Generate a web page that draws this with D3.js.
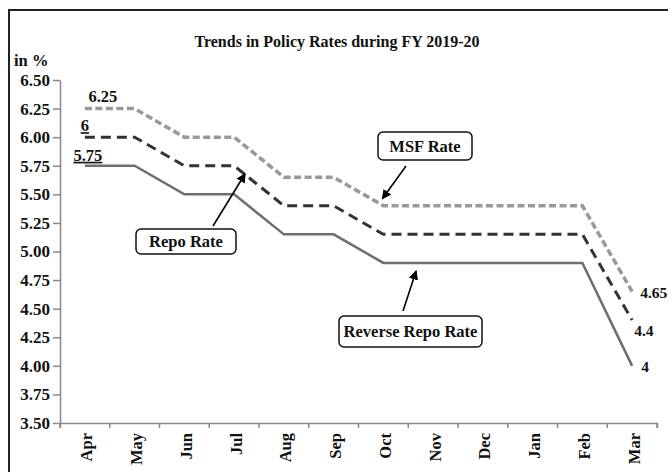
<!DOCTYPE html>
<html><head><meta charset="utf-8">
<script src="https://cdn.jsdelivr.net/npm/d3@7"></script>
<style>
body{margin:0;background:#fff;}
text{font-family:"Liberation Serif","Times New Roman",serif;font-weight:bold;fill:#111;}
</style></head>
<body><svg id="c" width="668" height="472"></svg>
<script>
const months = ["Apr","May","Jun","Jul","Aug","Sep","Oct","Nov","Dec","Jan","Feb","Mar"];
const msfRate = [6.25,6.25,6.00,6.00,5.65,5.65,5.40,5.40,5.40,5.40,5.40,4.65];
const repoRate = [6.00,6.00,5.75,5.75,5.40,5.40,5.15,5.15,5.15,5.15,5.15,4.40];
const reverseRepoRate = [5.75,5.75,5.50,5.50,5.15,5.15,4.90,4.90,4.90,4.90,4.90,4.00];
const yTicks = [3.50,3.75,4.00,4.25,4.50,4.75,5.00,5.25,5.50,5.75,6.00,6.25,6.50];
const startLabels = ["6.25","6","5.75"];
const endLabels = ["4.65","4.4","4"];

const svg = d3.select("#c");
const x = d3.scaleBand().domain(months).range([60,657]);
const y = d3.scaleLinear().domain([3.5,6.5]).range([423,80]);
const cx = m => x(m) + x.bandwidth()/2;

// outer frame
svg.append("rect").attr("x",9).attr("y",10).attr("width",700).attr("height",500)
  .attr("fill","none").attr("stroke","#222").attr("stroke-width",2);

// title
svg.append("text").attr("x",337).attr("y",47).attr("text-anchor","middle")
  .style("font-size","16px").text("Trends in Policy Rates during FY 2019-20");
svg.append("text").attr("x",14).attr("y",66).style("font-size","16.5px").text("in %");

// axes
const yAxis = svg.append("g").attr("transform","translate(60,0)")
  .call(d3.axisLeft(y).tickValues(yTicks).tickFormat(d3.format(".2f")).tickSize(7).tickSizeOuter(0));
const xAxis = svg.append("g").attr("transform","translate(0,423)")
  .call(d3.axisBottom(x).tickSize(5).tickSizeOuter(5));
[yAxis,xAxis].forEach(a=>{
  a.select(".domain").attr("stroke","#888").attr("stroke-width",1.5);
  a.selectAll(".tick line").attr("stroke","#888").attr("stroke-width",1.5);
});
yAxis.selectAll(".tick text").attr("x",-10).style("font-size","17px")
  .style("font-family","Liberation Serif").style("font-weight","bold").attr("fill","#111");
// x tick marks at band boundaries
xAxis.selectAll(".tick line").attr("x1",-x.bandwidth()/2).attr("x2",-x.bandwidth()/2);
xAxis.append("line").attr("x1",657).attr("x2",657).attr("y1",0).attr("y2",5).attr("stroke","#888").attr("stroke-width",1.5);
xAxis.selectAll(".tick text").attr("transform","rotate(-90)").attr("x",-10).attr("y",0)
  .attr("dy","0.45em").attr("text-anchor","end").style("font-size","16.5px")
  .style("font-family","Liberation Serif").style("font-weight","bold").attr("fill","#111");

const line = d3.line().x((d,i)=>cx(months[i])).y(d=>y(d));
const series = [
  {v:msfRate, color:"#999", dash:"7,3.5", w:3.5},
  {v:repoRate, color:"#333", dash:"10,6", w:3},
  {v:reverseRepoRate, color:"#6e6e6e", dash:null, w:2.5}
];
series.forEach(s=>{
  svg.append("path").datum(s.v).attr("d",line).attr("fill","none")
    .attr("stroke",s.color).attr("stroke-width",s.w)
    .attr("stroke-dasharray",s.dash);
});

// start labels
const startOff = [{dx:18,dy:-7},{dx:0,dy:-6},{dx:3,dy:-5}];
series.forEach((s,i)=>{
  const t = svg.append("text").attr("x",cx(months[0])+startOff[i].dx).attr("y",y(s.v[0])+startOff[i].dy)
    .attr("text-anchor","middle").style("font-size","16.5px").text(startLabels[i]);
  if(i>0) t.style("text-decoration","underline");
});
// end labels
const endOff = [{dx:8,dy:6},{dx:2,dy:16},{dx:9,dy:6}];
series.forEach((s,i)=>{
  svg.append("text").attr("x",cx(months[11])+endOff[i].dx).attr("y",y(s.v[11])+endOff[i].dy)
    .style("font-size","15.5px").text(endLabels[i]);
});

// arrow marker
svg.append("defs").append("marker").attr("id","ah").attr("viewBox","0 0 10 10")
  .attr("refX",9).attr("refY",5).attr("markerWidth",6).attr("markerHeight",6)
  .attr("orient","auto-start-reverse").append("path").attr("d","M0,0L10,5L0,10z").attr("fill","#000");

// callouts
const callouts = [
  {text:"MSF Rate", box:[378,132,94,28], from:[406,166], toM:"Oct", toV:5.40, off:[-1,-7]},
  {text:"Repo Rate", box:[136,229,100,25], from:[213,226], toM:"Jul", toV:5.75, off:[11,8]},
  {text:"Reverse Repo Rate", box:[339,316,143,31], from:[403,311], toM:"Nov", toV:4.90, off:[-17,8]}
];
callouts.forEach(c=>{
  svg.append("rect").attr("x",c.box[0]).attr("y",c.box[1]).attr("width",c.box[2]).attr("height",c.box[3])
    .attr("rx",5).attr("fill","#fff").attr("stroke","#111").attr("stroke-width",1.5);
  svg.append("text").attr("x",c.box[0]+c.box[2]/2).attr("y",c.box[1]+c.box[3]/2).attr("dy","0.35em")
    .attr("text-anchor","middle").style("font-size","16.5px").text(c.text);
  svg.append("line").attr("x1",c.from[0]).attr("y1",c.from[1])
    .attr("x2",cx(c.toM)+c.off[0]).attr("y2",y(c.toV)+c.off[1])
    .attr("stroke","#000").attr("stroke-width",1.6).attr("marker-end","url(#ah)");
});
</script></body></html>
